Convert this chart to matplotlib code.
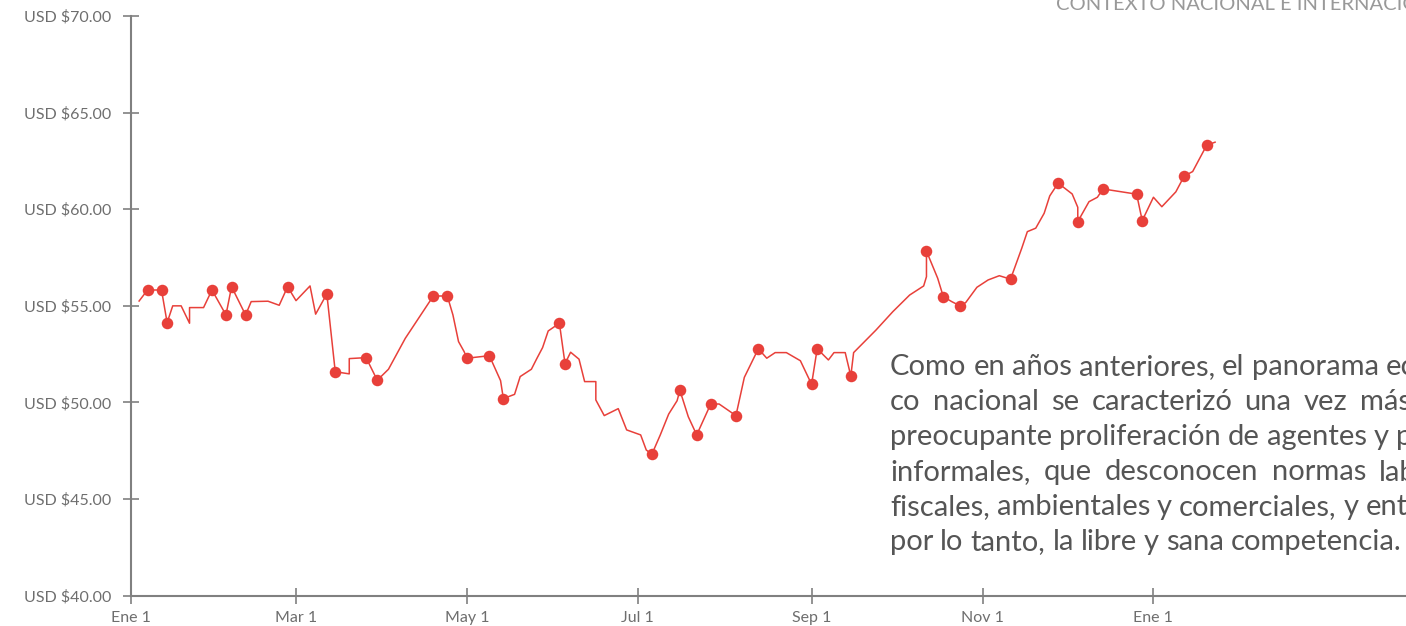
import matplotlib
matplotlib.use('Agg')
import matplotlib.pyplot as plt
import pandas as pd

# precio diario (USD / barril)
fechas = [
    '2017-01-04', '2017-01-07', '2017-01-12', '2017-01-14', '2017-01-16', '2017-01-19',
    '2017-01-22', '2017-01-22', '2017-01-27', '2017-01-30', '2017-02-04', '2017-02-06',
    '2017-02-11', '2017-02-13', '2017-02-19', '2017-02-23', '2017-02-26', '2017-03-01',
    '2017-03-06', '2017-03-08', '2017-03-12', '2017-03-15', '2017-03-20', '2017-03-20',
    '2017-03-26', '2017-03-30', '2017-04-03', '2017-04-09', '2017-04-19', '2017-04-24',
    '2017-04-26', '2017-04-28', '2017-04-30', '2017-05-01', '2017-05-09', '2017-05-13',
    '2017-05-14', '2017-05-18', '2017-05-20', '2017-05-24', '2017-05-26', '2017-05-28',
    '2017-05-30', '2017-06-03', '2017-06-05', '2017-06-07', '2017-06-10', '2017-06-12',
    '2017-06-16', '2017-06-16', '2017-06-19', '2017-06-24', '2017-06-27', '2017-07-02',
    '2017-07-04', '2017-07-06', '2017-07-09', '2017-07-12', '2017-07-15', '2017-07-16',
    '2017-07-19', '2017-07-22', '2017-07-27', '2017-07-30', '2017-08-05', '2017-08-08',
    '2017-08-13', '2017-08-16', '2017-08-19', '2017-08-23', '2017-08-28', '2017-09-01',
    '2017-09-03', '2017-09-07', '2017-09-09', '2017-09-13', '2017-09-15', '2017-09-16',
    '2017-09-24', '2017-09-30', '2017-10-06', '2017-10-11', '2017-10-12', '2017-10-12',
    '2017-10-16', '2017-10-18', '2017-10-21', '2017-10-24', '2017-10-26', '2017-10-30',
    '2017-11-03', '2017-11-07', '2017-11-11', '2017-11-15', '2017-11-17', '2017-11-20',
    '2017-11-23', '2017-11-25', '2017-11-28', '2017-12-03', '2017-12-05', '2017-12-05',
    '2017-12-09', '2017-12-12', '2017-12-14', '2017-12-26', '2017-12-28', '2018-01-01',
    '2018-01-04', '2018-01-09', '2018-01-12', '2018-01-15', '2018-01-20', '2018-01-23',
]
precios = [
    55.25, 55.82, 55.82, 54.13, 55.00, 55.00,
    54.10, 54.91, 54.91, 55.82, 54.53, 55.99,
    54.53, 55.22, 55.24, 55.03, 55.99, 55.27,
    56.03, 54.57, 55.62, 51.59, 51.48, 52.27,
    52.32, 51.15, 51.72, 53.32, 55.51, 55.51,
    54.53, 53.15, 52.63, 52.29, 52.42, 51.13,
    50.20, 50.42, 51.34, 51.72, 52.29, 52.84,
    53.70, 54.10, 52.01, 52.60, 52.24, 51.08,
    51.08, 50.13, 49.32, 49.68, 48.58, 48.32,
    47.54, 47.32, 48.32, 49.40, 50.09, 50.63,
    49.26, 48.32, 49.92, 49.92, 49.32, 51.30,
    52.78, 52.29, 52.58, 52.58, 52.16, 50.94,
    52.78, 52.20, 52.58, 52.58, 51.37, 52.58,
    53.75, 54.70, 55.56, 56.03, 56.51, 57.83,
    56.43, 55.48, 55.22, 55.00, 55.17, 55.96,
    56.34, 56.56, 56.38, 57.98, 58.84, 59.02,
    59.79, 60.69, 61.35, 60.79, 60.10, 59.36,
    60.39, 60.62, 61.05, 60.78, 59.41, 60.62,
    60.13, 60.90, 61.72, 61.95, 63.31, 63.47,
]
# posiciones (indice) de los puntos resaltados
marcados = [1, 2, 3, 9, 10, 11, 12, 16, 20, 21, 24, 25, 28, 29, 33, 34, 36, 43, 44,
            55, 59, 61, 62, 64, 66, 71, 72, 76, 83, 85, 87, 92, 98, 101, 104, 105,
            106, 110, 112]

tick_fechas = ['2017-01-01', '2017-03-01', '2017-05-01', '2017-07-01',
               '2017-09-01', '2017-11-01', '2018-01-01']
tick_textos = ['Ene 1', 'Mar 1', 'May 1', 'Jul 1', 'Sep 1', 'Nov 1', 'Ene 1']
y_ticks = [40, 45, 50, 55, 60, 65, 70]

parrafo = [
    'Como en años anteriores, el panorama económi-',
    'co nacional se caracterizó una vez más por la',
    'preocupante proliferación de agentes y procesos',
    'informales, que desconocen normas laborales,',
    'fiscales, ambientales y comerciales, y entorpecen,',
    'por lo tanto, la libre y sana competencia.',
]
encabezado = 'CONTEXTO NACIONAL E INTERNACIONAL'

ROJO = '#e8403a'
GRIS = '#808080'
plt.rcParams['font.family'] = ['Lato', 'DejaVu Sans']

W, H = 1406, 626
fig = plt.figure(figsize=(W / 100, H / 100), dpi=100)
ax = fig.add_axes([130.7 / W, 30.3 / H, (W - 130.7) / W, (595.7 - 16) / H])

x = pd.to_datetime(fechas)
ax.plot(x, precios, color=ROJO, lw=1.1)
ax.plot(x[marcados], [precios[i] for i in marcados], 'o', color=ROJO, ms=8.3, mec='none')

inicio = pd.Timestamp('2017-01-01')
ax.set_xlim(inicio, inicio + pd.Timedelta(days=(W - 130.7) / 2.802))
ax.set_ylim(40, 70)

ax.set_xticks(pd.to_datetime(tick_fechas))
ax.set_xticklabels(tick_textos)
ax.set_yticks(y_ticks)
ax.set_yticklabels([f'USD ${v:.2f}' for v in y_ticks])

for s in ['top', 'right']:
    ax.spines[s].set_visible(False)
for s in ['left', 'bottom']:
    ax.spines[s].set_color(GRIS)
    ax.spines[s].set_linewidth(1.5)
ax.tick_params(direction='inout', length=12, width=1.2, color=GRIS,
               labelcolor='#6e6e6e', labelsize=11.5)
ax.tick_params(axis='y', pad=8)
ax.tick_params(axis='x', pad=5)

# parrafo justificado a la derecha del grafico
fig.canvas.draw()
rend = fig.canvas.get_renderer()
x0, derecha = 890, 1500
base = 375
for n, linea in enumerate(parrafo):
    yb = 1 - (base + n * 35) / H
    palabras = linea.split()
    objs = [fig.text(0, yb, p, fontsize=21, color='#555555', va='baseline')
            for p in palabras]
    anchos = [o.get_window_extent(rend).width for o in objs]
    hueco = 7
    if n < len(parrafo) - 1:
        hueco = max(hueco, (derecha - x0 - sum(anchos)) / (len(palabras) - 1))
    xp = x0
    for o, a in zip(objs, anchos):
        o.set_x(xp / W)
        xp += a + hueco

fig.text(1056 / W, 1 - 10 / H, encabezado, fontsize=14.5, color='#999999',
         va='baseline')

fig.savefig('out.png', dpi=100)
